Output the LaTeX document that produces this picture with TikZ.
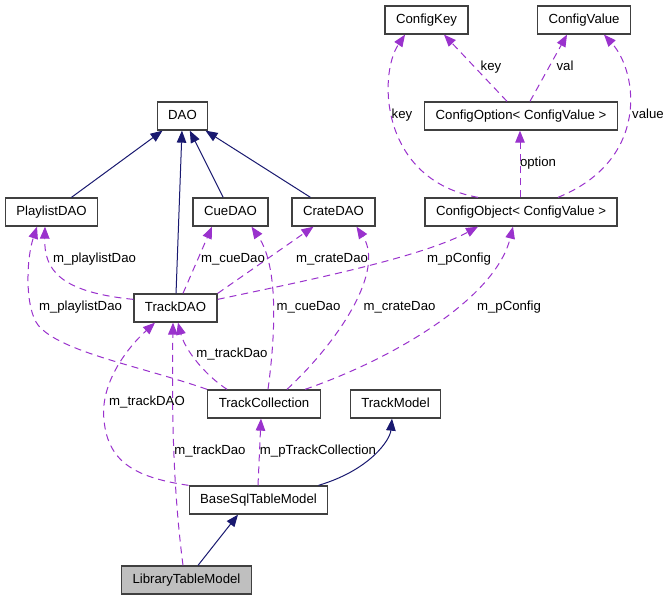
\documentclass[tikz,border=0pt]{standalone}
\usepackage{fontspec}
\setmainfont{Liberation Sans}
\usepackage{tikz}
\usetikzlibrary{arrows.meta}
\definecolor{edgeblue}{RGB}{25,25,112}
\definecolor{edgepurple}{RGB}{154,50,205}
\definecolor{boxgray}{RGB}{191,191,191}
\begin{document}
\begin{tikzpicture}[x=1pt,y=-1pt,
  box/.style={draw=black!75,line width=1.3pt,fill=white,minimum height=28pt,inner xsep=11pt,
    text height=10pt,text depth=3pt,font=\fontsize{13.2}{16}\selectfont},
  lbl/.style={inner sep=0pt,text height=10pt,text depth=3pt,font=\fontsize{13.2}{16}\selectfont},
  derived/.style={draw=edgeblue,line width=1pt,-{Triangle[length=12pt,width=9.5pt]}},
  member/.style={draw=edgepurple,line width=1pt,dash pattern=on 7pt off 5pt,-{Triangle[length=12pt,width=9.5pt]}}]
\path[use as bounding box,fill=white] (0,0) rectangle (671,600);
\node[box] (ckey) at (426.5,20) {ConfigKey};
\node[box] (cval) at (584,20) {ConfigValue};
\node[box] (dao) at (182.5,116) {DAO};
\node[box] (copt) at (521,116) {ConfigOption< ConfigValue >};
\node[box] (plist) at (51.5,212) {PlaylistDAO};
\node[box] (cue) at (230.5,212) {CueDAO};
\node[box] (crate) at (333.5,212) {CrateDAO};
\node[box] (cobj) at (521,212) {ConfigObject< ConfigValue >};
\node[box] (tdao) at (175.5,308) {TrackDAO};
\node[box] (tcoll) at (264,404) {TrackCollection};
\node[box] (tmodel) at (395.5,404) {TrackModel};
\node[box] (bsql) at (258.5,500) {BaseSqlTableModel};
\node[box,fill=boxgray] (lib) at (186.5,580) {LibraryTableModel};

\draw[derived] (plist) -- (dao);
\draw[derived] (tdao) -- (dao);
\draw[derived] (cue) -- (dao);
\draw[derived] (crate) -- (dao);
\draw[derived] ([xshift=-10pt]bsql.north east) .. controls (370,470) and (390,440) .. ([xshift=-3.5pt]tmodel.south);
\draw[derived] (lib) -- ([xshift=-20.5pt]bsql.south);

\draw[member] ([yshift=-6pt]tdao.north west) .. controls (60,292) and (44,270) .. ([xshift=-6.5pt]plist.south);
\draw[member] (tcoll.north west) .. controls (140,366) and (60,352) .. (38,325) .. controls (25,308) and (26,260) .. ([xshift=-14.5pt]plist.south);
\draw[member] ([xshift=7.5pt]tdao.north) -- ([xshift=-18.5pt]cue.south);
\draw[member] ([xshift=4pt]tcoll.north) .. controls (276,330) and (278,265) .. ([xshift=21pt]cue.south);
\draw[member] (tdao.north east) -- ([xshift=-20pt]crate.south);
\draw[member] ([xshift=23pt]tcoll.north) .. controls (340,340) and (385,270) .. ([xshift=23pt]crate.south);
\draw[member] ([yshift=-6pt]tdao.north east) .. controls (300,282) and (420,258) .. ([xshift=-43pt]cobj.south);
\draw[member] ([xshift=41pt]tcoll.north) .. controls (390,360) and (495,300) .. ([xshift=-8pt]cobj.south);
\draw[member] ([xshift=-43pt]cobj.north) .. controls (380,180) and (378,75) .. ([xshift=-21.5pt]ckey.south);
\draw[member] ([xshift=-14pt]copt.north) -- ([xshift=17.5pt]ckey.south);
\draw[member] ([xshift=9pt]copt.north) -- ([xshift=-17pt]cval.south);
\draw[member] ([xshift=37pt]cobj.north) .. controls (650,160) and (638,72) .. ([xshift=20pt]cval.south);
\draw[member] ([xshift=-1pt]cobj.north) -- ([xshift=-1pt]copt.south);
\draw[member] ([xshift=-37pt]tcoll.north) .. controls (205,375) and (185,350) .. ([xshift=2.5pt]tdao.south);
\draw[member] ([xshift=-3.5pt]lib.north) .. controls (172,480) and (172,400) .. ([xshift=-2.5pt]tdao.south);
\draw[member] (bsql.north west) .. controls (140,478) and (108,465) .. (104,420) .. controls (100,385) and (125,350) .. ([xshift=-20.5pt]tdao.south);
\draw[member] ([xshift=-0.5pt]bsql.north) -- ([xshift=-3pt]tcoll.south);

\node[lbl] (lplist1) at (94.5,259) {m\_playlistDao};
\node[lbl] (lplist2) at (80.5,307) {m\_playlistDao};
\node[lbl] (lcue1) at (233,259) {m\_cueDao};
\node[lbl] (lcue2) at (308.5,307) {m\_cueDao};
\node[lbl] (lcrate1) at (332,259) {m\_crateDao};
\node[lbl] (lcrate2) at (399.5,307) {m\_crateDao};
\node[lbl] (lconf1) at (459,259) {m\_pConfig};
\node[lbl] (lconf2) at (509,307) {m\_pConfig};
\node[lbl] (ltrack1) at (232,354) {m\_trackDao};
\node[lbl] (ltrack2) at (147,402) {m\_trackDAO};
\node[lbl] (ltrack3) at (210,451) {m\_trackDao};
\node[lbl] (lcoll) at (318,451) {m\_pTrackCollection};
\node[lbl] (lkey1) at (402,115) {key};
\node[lbl] (lkey2) at (491,67) {key};
\node[lbl] (lval) at (565,67) {val};
\node[lbl] (lvalue) at (648,115) {value};
\node[lbl] (lopt) at (538,163) {option};
\end{tikzpicture}
\end{document}
